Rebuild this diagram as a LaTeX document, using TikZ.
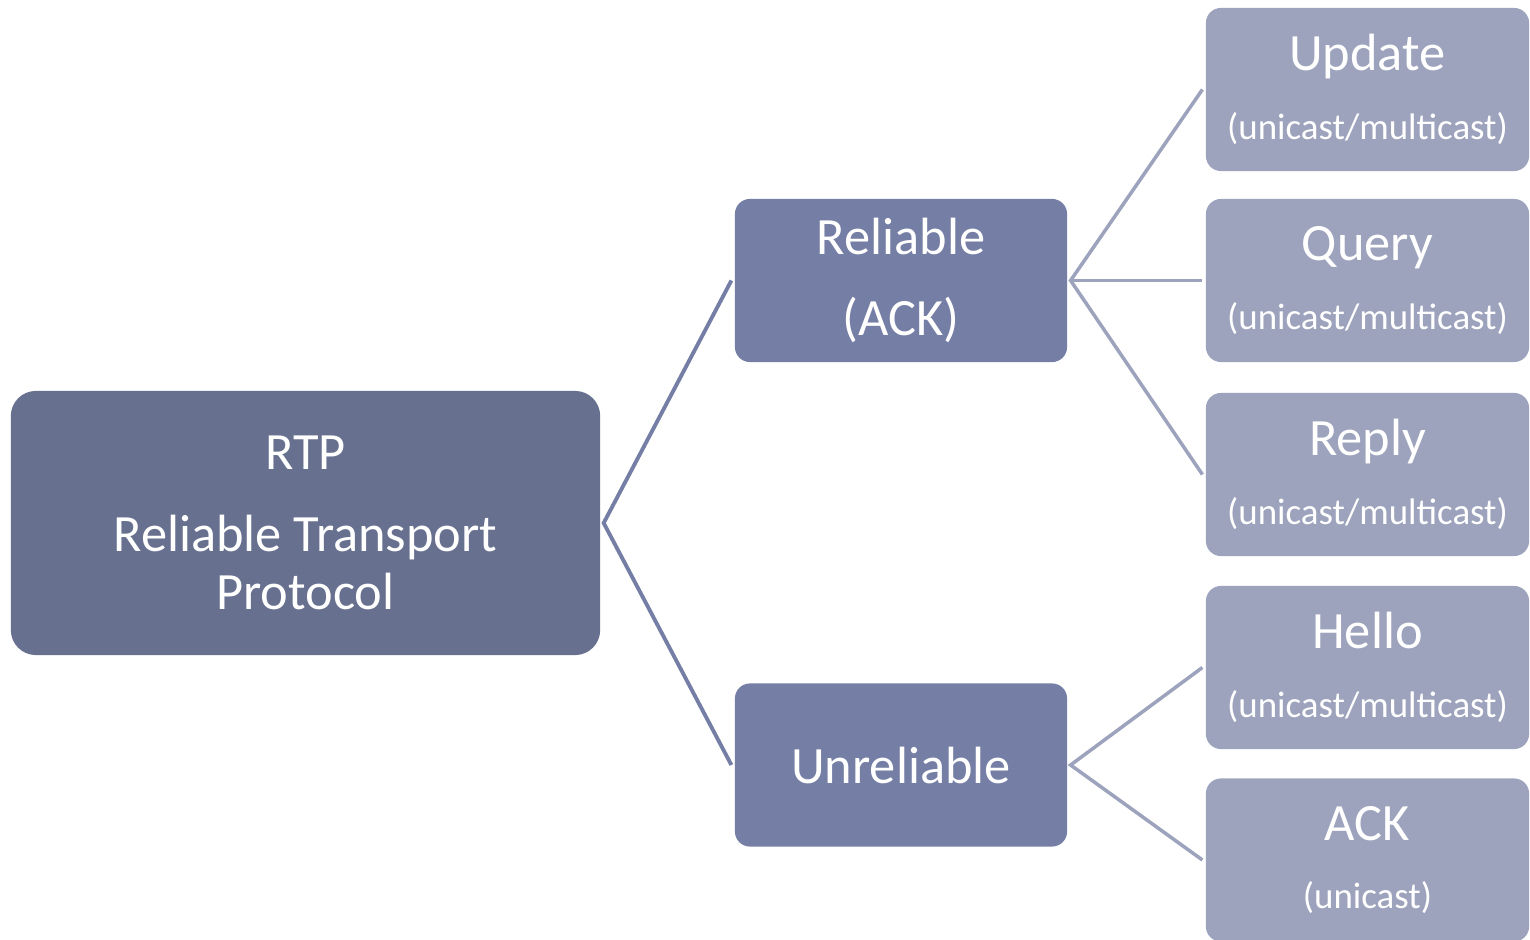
\documentclass[tikz,border=0pt]{standalone}
\usepackage{fontspec}
\setmainfont{Carlito}
\definecolor{rootfill}{RGB}{103,112,143}
\definecolor{midfill}{RGB}{117,126,164}
\definecolor{leaffill}{RGB}{157,163,188}
\newcommand{\castnote}[1]{{\fontsize{10.5}{12}\selectfont #1}}
\begin{document}
\begin{tikzpicture}[x=0.01cm,y=-0.01cm,
  box/.style={rounded corners=0.15cm,text=white,align=center,inner sep=0pt,
    outer sep=0.035cm,font=\fontsize{14.9}{16.5}\selectfont},
  rootbox/.style={box,fill=rootfill,rounded corners=0.25cm,minimum width=5.89cm,minimum height=2.64cm},
  midbox/.style={box,fill=midfill,minimum width=3.32cm,minimum height=1.63cm},
  leafbox/.style={box,fill=leaffill,minimum width=3.23cm,minimum height=1.63cm},
  toplink/.style={draw=midfill,line width=1.1pt},
  leaflink/.style={draw=leaffill,line width=1pt}]
\useasboundingbox (0,0) rectangle (1530,940);
% root
\node[rootbox] (rtp) at (305.5,523) {RTP\\[6.8pt]Reliable Transport\\Protocol};
% second level
\node[midbox] (rel) at (901,280.5) {Reliable\\[6.3pt](ACK)};
\node[midbox] (unrel) at (901,765) {Unreliable};
% leaves
\node[leafbox] (update) at (1367.5,89.5) {Update\\[3pt]\castnote{(unicast/multicast)}};
\node[leafbox] (query) at (1367.5,280.5) {Query\\[3pt]\castnote{(unicast/multicast)}};
\node[leafbox] (reply) at (1367.5,474.5) {Reply\\[3pt]\castnote{(unicast/multicast)}};
\node[leafbox] (hello) at (1367.5,667.5) {Hello\\[3pt]\castnote{(unicast/multicast)}};
\node[leafbox] (ack) at (1367.5,860) {ACK\\[3pt]\castnote{(unicast)}};
% links
\draw[toplink] (rel.west) -- (rtp.east) -- (unrel.west);
\draw[leaflink] (update.west) -- (rel.east) -- (reply.west);
\draw[leaflink] (rel.east) -- (query.west);
\draw[leaflink] (hello.west) -- (unrel.east) -- (ack.west);
\end{tikzpicture}
\end{document}
